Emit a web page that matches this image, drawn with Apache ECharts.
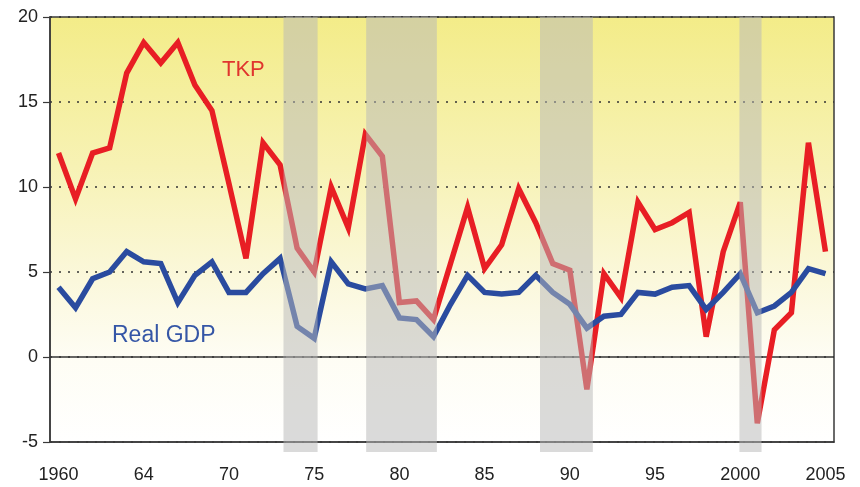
<!DOCTYPE html>
<html>
<head>
<meta charset="utf-8">
<script src="https://cdn.jsdelivr.net/npm/echarts@6/dist/echarts.min.js"></script>
<style>html,body{margin:0;padding:0;background:#fff}#c{width:860px;height:487px}</style>
</head>
<body>
<div id="c"></div>
<script>
const years = [];
for (let y = 1960; y <= 2005; y++) years.push(y);
const tkp = [12.0, 9.3, 12.0, 12.3, 16.7, 18.5, 17.3, 18.5, 16.0, 14.5,
             10.2, 5.8, 12.6, 11.3, 6.4, 5.0, 10.0, 7.6, 13.1, 11.8,
             3.2, 3.3, 2.2, 5.5, 8.8, 5.2, 6.6, 9.9, 7.9, 5.5,
             5.1, -1.9, 4.9, 3.5, 9.1, 7.5, 7.9, 8.5, 1.2, 6.2,
             9.1, -3.9, 1.6, 2.6, 12.6, 6.2];
const gdp = [4.1, 2.9, 4.6, 5.0, 6.2, 5.6, 5.5, 3.2, 4.8, 5.6,
             3.8, 3.8, 4.9, 5.8, 1.8, 1.1, 5.6, 4.3, 4.0, 4.2,
             2.3, 2.2, 1.2, 3.1, 4.8, 3.8, 3.7, 3.8, 4.8, 3.8,
             3.1, 1.7, 2.4, 2.5, 3.8, 3.7, 4.1, 4.2, 2.8, 3.8,
             4.9, 2.6, 3.0, 3.8, 5.2, 4.9];
const tickYears = [1960, 1965, 1970, 1975, 1980, 1985, 1990, 1995, 2000, 2005];
const tickLabels = ['1960', '64', '70', '75', '80', '85', '90', '95', '2000', '2005'];
const recessions = [[1973.2, 1975.2], [1978.05, 1982.2], [1988.25, 1991.35], [1999.95, 2001.25]];
const zeroLine = [0];

const pair = (arr) => years.map((y, i) => [y, arr[i]]);
const font = "'Liberation Sans', Arial, sans-serif";

const chart = echarts.init(document.getElementById('c'), null, {renderer: 'canvas'});
chart.setOption({
  animation: false,
  backgroundColor: '#ffffff',
  grid: [
    {left: 50, right: 26, top: 17, bottom: 45, show: true,
     borderColor: '#3a3a3a', borderWidth: 1.5,
     backgroundColor: {type: 'linear', x: 0, y: 0, x2: 0, y2: 1,
       colorStops: [
         {offset: 0, color: '#f3ec88'},
         {offset: 0.35, color: '#f7f2b4'},
         {offset: 0.62, color: '#fbf8dc'},
         {offset: 0.8, color: '#fefdf4'},
         {offset: 1, color: '#ffffff'}]}},
    {left: 50, right: 26, top: 17, bottom: 35, show: false}
  ],
  xAxis: [
    {type: 'value', gridIndex: 0, min: 1959.5, max: 2005.5,
     axisLine: {show: true, onZero: false, lineStyle: {color: '#3a3a3a', width: 1.5}},
     axisTick: {show: false}, splitLine: {show: false},
     axisLabel: {customValues: tickYears, margin: 24, fontSize: 18, fontFamily: font, color: '#222',
       formatter: v => tickLabels[tickYears.indexOf(v)]}},
    {type: 'value', gridIndex: 1, min: 1959.5, max: 2005.5, show: false}
  ],
  yAxis: [
    {type: 'value', gridIndex: 0, min: -5, max: 20, interval: 5,
     axisLine: {show: true, lineStyle: {color: '#3a3a3a', width: 1.5}},
     axisTick: {show: true, length: 7, lineStyle: {color: '#3a3a3a', width: 1.2}},
     axisLabel: {margin: 12, fontSize: 18, fontFamily: font, color: '#222'},
     splitLine: {show: true, lineStyle: {color: '#333', type: [2, 7], width: 1.6}}},
    {type: 'value', gridIndex: 1, min: 0, max: 1, show: false}
  ],
  graphic: [
    {type: 'text', left: 222, top: 59, z: 50,
     style: {text: 'TKP', fill: '#e0352e', font: "22px 'Liberation Sans', Arial, sans-serif"}},
    {type: 'text', left: 112, top: 324, z: 50,
     style: {text: 'Real GDP', fill: '#3556a6', font: "23px 'Liberation Sans', Arial, sans-serif"}}
  ],
  series: [
    {name: 'zero', type: 'line', xAxisIndex: 0, yAxisIndex: 0, z: 2, data: [],
     markLine: {silent: true, symbol: ['none', 'none'], z: 2, label: {show: false}, animation: false,
       lineStyle: {color: '#333333', type: 'solid', width: 1.6},
       data: zeroLine.map(v => ({yAxis: v}))}},
    {name: 'TKP', type: 'line', xAxisIndex: 0, yAxisIndex: 0, z: 3,
     data: pair(tkp), symbol: 'none', smooth: false,
     lineStyle: {color: '#e81e24', width: 5.5, join: 'miter', miterLimit: 4}},
    {name: 'Real GDP', type: 'line', xAxisIndex: 0, yAxisIndex: 0, z: 4,
     data: pair(gdp), symbol: 'none', smooth: false,
     lineStyle: {color: '#2a4b9f', width: 5.5, join: 'miter', miterLimit: 4}},
    {name: 'bands', type: 'line', xAxisIndex: 1, yAxisIndex: 1, z: 10, data: [],
     markArea: {silent: true, z: 10,
       itemStyle: {color: 'rgba(184,184,184,0.52)'},
       data: recessions.map(r => [{xAxis: r[0]}, {xAxis: r[1]}])}}
  ]
});
</script>
</body>
</html>
